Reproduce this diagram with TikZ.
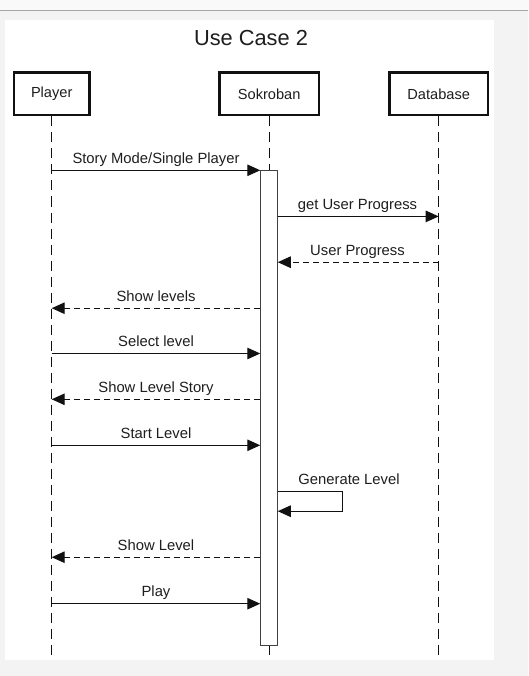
\documentclass[tikz,border=0pt]{standalone}
\usepackage{fontspec}
\setmainfont{Liberation Sans}
\usetikzlibrary{arrows.meta}
\definecolor{bgtop}{HTML}{F9F9F9}
\definecolor{bgmain}{HTML}{F3F3F3}
\definecolor{rulec}{HTML}{A6A6A6}
\definecolor{textc}{HTML}{1E1E1E}
\definecolor{linec}{HTML}{111111}
\begin{document}
\begin{tikzpicture}[x=1pt,y=-1pt,
  headbox/.style={draw=linec, line width=2.3pt, fill=white, inner sep=0pt,
    minimum height=42.7pt, font=\fontsize{14.6}{16}\selectfont, text=textc},
  lifeln/.style={draw=linec, line width=1pt, dash pattern=on 10pt off 6pt},
  actbar/.style={draw=linec!80, line width=1pt, fill=white, inner sep=0pt,
    minimum width=16.5pt, minimum height=474.5pt},
  msg/.style={draw=linec, line width=1.1pt, -{Triangle[length=13pt,width=11.5pt]}},
  ret/.style={msg, dash pattern=on 6pt off 4pt},
  lbl/.style={anchor=base, inner sep=0pt, font=\fontsize{14.8}{16}\selectfont, text=textc},
]
\useasboundingbox (0,0) rectangle (528,676);
% background
\fill[bgtop] (0,0) rectangle (528,10);
\fill[bgmain] (0,10) rectangle (528,676);
\draw[rulec, line width=1.2pt] (0,10.5) -- (528,10.5);
\fill[white] (5,20) rectangle (494,660);

% title
\node[anchor=base, inner sep=0pt, font=\fontsize{21.8}{24}\selectfont, text=textc] (title) at (251,45.3) {Use Case 2};

% lifeline heads
\node[headbox, minimum width=75.7pt] (player) at (51.7,94) {Player};
\node[headbox, minimum width=99.4pt] (sokroban) at (269.2,94) {Sokroban};
\node[headbox, minimum width=98.4pt] (database) at (438.7,94) {Database};

% lifeline ends
\coordinate (pend) at (51.7,660);
\coordinate (send) at (269.2,660);
\coordinate (dend) at (438.7,660);

\draw[lifeln] (player.south) -- (pend);
\draw[lifeln] (sokroban.south) -- (send);
\draw[lifeln] (database.south) -- (dend);

% activation bar
\node[actbar, anchor=north] (bar) at (269,170.3) {};

% message coordinates
\coordinate (y1) at (0,170.3);
\coordinate (y2) at (0,216.4);
\coordinate (y3) at (0,262.2);
\coordinate (y4) at (0,308.2);
\coordinate (y5) at (0,353.5);
\coordinate (y6) at (0,399.3);
\coordinate (y7) at (0,445.3);
\coordinate (y8) at (0,491.2);
\coordinate (y9) at (0,511.2);
\coordinate (y10) at (0,557.2);
\coordinate (y11) at (0,603.7);
\coordinate (gr1) at (342.4,491.2);
\coordinate (gr2) at (342.4,511.2);

% messages
\draw[msg] (player.south |- y1) -- (bar.west |- y1);
\node[lbl] (l1) at (156,163.3) {Story Mode/Single Player};

\draw[msg] (bar.east |- y2) -- (database.south |- y2);
\node[lbl] (l2) at (357.5,209) {get User Progress};

\draw[ret] (database.south |- y3) -- (bar.east |- y3);
\node[lbl] (l3) at (357.5,255) {User Progress};

\draw[ret] (bar.west |- y4) -- (player.south |- y4);
\node[lbl] (l4) at (156,301) {Show levels};

\draw[msg] (player.south |- y5) -- (bar.west |- y5);
\node[lbl] (l5) at (156,346.3) {Select level};

\draw[ret] (bar.west |- y6) -- (player.south |- y6);
\node[lbl] (l6) at (156,392) {Show Level Story};

\draw[msg] (player.south |- y7) -- (bar.west |- y7);
\node[lbl] (l7) at (156,438) {Start Level};

\draw[msg] (bar.east |- y8) -- (gr1) -- (gr2) -- (bar.east |- y9);
\node[lbl] (l8) at (349,484) {Generate Level};

\draw[ret] (bar.west |- y10) -- (player.south |- y10);
\node[lbl] (l9) at (156,550) {Show Level};

\draw[msg] (player.south |- y11) -- (bar.west |- y11);
\node[lbl] (l10) at (156,596.5) {Play};
\end{tikzpicture}
\end{document}
